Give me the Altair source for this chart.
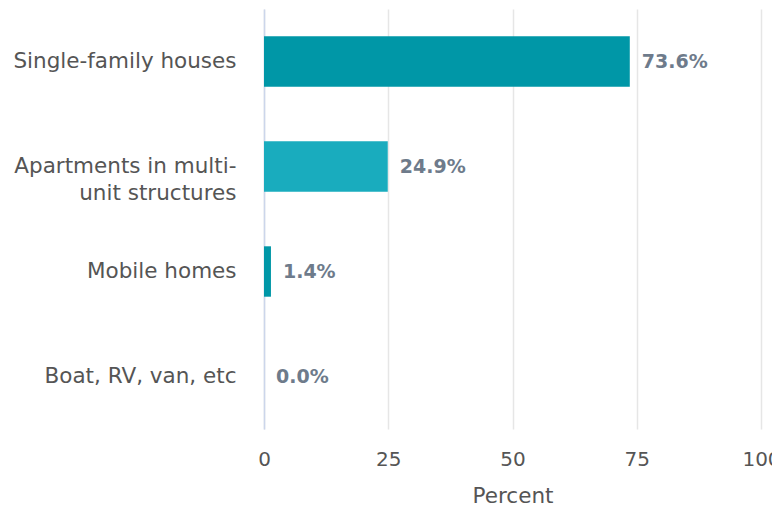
import altair as alt
import pandas as pd

categories = ["Single-family houses", "Apartments in multi-unit structures", "Mobile homes", "Boat, RV, van, etc"]
values = [73.6, 24.9, 1.4, 0.0]
labels = ["73.6%", "24.9%", "1.4%", "0.0%"]
colors = ["#0097a7", "#19acbe", "#0097a7", "#19acbe"]
x_ticks = [0, 25, 50, 75, 100]

df = pd.DataFrame({"cat": categories, "val": values, "lab": labels, "col": colors})

FONT = "DejaVu Sans"

y = alt.Y("cat:N", sort=categories, title=None,
          scale=alt.Scale(paddingInner=0.52, paddingOuter=0.26),
          axis=alt.Axis(labelFont=FONT, labelFontSize=21.5, labelColor="#555555",
                        labelPadding=28, ticks=False, domain=True, domainColor="#ccd6eb",
                        domainWidth=1.5, grid=False, labelLimit=400,
                        labelLineHeight=27,
                        labelExpr="datum.value == 'Apartments in multi-unit structures' ? ['Apartments in multi-', 'unit structures'] : datum.label"))

x = alt.X("val:Q", title="Percent",
          scale=alt.Scale(domain=[0, 100], nice=False),
          axis=alt.Axis(values=x_ticks, labelFont=FONT, labelFontSize=20, labelColor="#555555",
                        titleFont=FONT, titleFontSize=21.5, titleColor="#555555", titleFontWeight="normal",
                        titlePadding=16, labelPadding=20, ticks=False, domain=False,
                        grid=True, gridColor="#e6e6e6", gridWidth=1.5, labelFlush=False))

bars = alt.Chart(df).mark_bar().encode(
    x=x, y=y, color=alt.Color("col:N", scale=None)
)

text = alt.Chart(df).mark_text(align="left", baseline="middle", dx=12, font=FONT,
                               fontSize=19, fontWeight="bold", color="#6e7b8b").encode(
    x="val:Q", y=alt.Y("cat:N", sort=categories), text="lab:N"
)

chart = (bars + text).properties(
    width=497, height=420,
    autosize=alt.AutoSizeParams(type="none"),
    padding={"left": 256, "top": 1, "right": 11, "bottom": 82},
).configure_view(stroke=None)

chart.save("out.html", embed_options={"renderer": "svg", "actions": False})
